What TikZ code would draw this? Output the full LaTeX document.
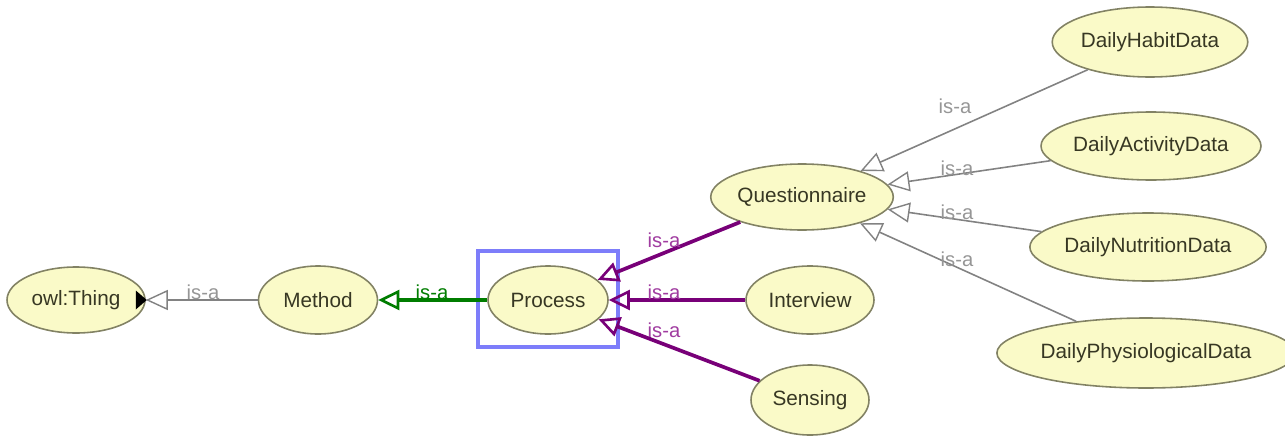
\documentclass[tikz,border=0pt]{standalone}
\usepackage{fontspec}
\setmainfont{Liberation Sans}
\usetikzlibrary{shapes.geometric,arrows.meta}

\definecolor{clsfill}{RGB}{250,250,200}
\definecolor{clsdraw}{RGB}{130,130,100}
\definecolor{clstext}{RGB}{55,55,35}
\definecolor{isagray}{RGB}{130,130,130}
\definecolor{isagraytxt}{RGB}{150,150,150}
\definecolor{isapurple}{RGB}{120,0,120}
\definecolor{isapurpletxt}{RGB}{160,60,160}
\definecolor{isagreen}{RGB}{0,125,0}
\definecolor{selblue}{RGB}{125,125,250}

\tikzset{
  cls/.style={ellipse, draw=clsdraw, fill=clsfill, line width=0.9pt,
    text=clstext, font=\fontsize{11.8}{13}\selectfont, inner sep=0pt},
  isaedge/.style={-{Triangle[open, length=0.44cm, width=0.4cm, line width=0.8pt]},
    draw=isagray, line width=0.9pt},
  subedge/.style={-{Triangle[open, length=0.42cm, width=0.4cm, line width=1.5pt]},
    draw=isapurple, line width=2.1pt},
  superedge/.style={-{Triangle[open, length=0.42cm, width=0.4cm, line width=1.5pt]},
    draw=isagreen, line width=1.8pt},
  isalbl/.style={font=\fontsize{11.5}{12}\selectfont, inner sep=0pt},
}

\begin{document}
\begin{tikzpicture}[x=0.02cm, y=-0.02cm]
  \useasboundingbox (0,0) rectangle (1285,436);

  % classes
  \node[cls, minimum width=138*0.02cm, minimum height=66*0.02cm] (thing) at (76,300) {owl:Thing};
  \node[cls, minimum width=119*0.02cm, minimum height=68*0.02cm] (method) at (318,300) {Method};
  \node[cls, minimum width=120*0.02cm, minimum height=68*0.02cm] (process) at (548,300) {Process};
  \node[cls, minimum width=166*0.02cm, minimum height=66*0.02cm] (quest) at (802,197) {Questionnaire};
  \node[cls, minimum width=128*0.02cm, minimum height=68*0.02cm] (interview) at (810,300) {Interview};
  \node[cls, minimum width=118*0.02cm, minimum height=70*0.02cm] (sensing) at (810,400) {Sensing};
  \node[cls, minimum width=188*0.02cm, minimum height=70*0.02cm] (habit) at (1150,42) {DailyHabitData};
  \node[cls, minimum width=212*0.02cm, minimum height=68*0.02cm] (activity) at (1151,146) {DailyActivityData};
  \node[cls, minimum width=220*0.02cm, minimum height=68*0.02cm] (nutrition) at (1148,247) {DailyNutritionData};
  \node[cls, minimum width=274*0.02cm, minimum height=70*0.02cm] (physio) at (1146,353) {DailyPhysiologicalData};

  % selection frame around the focused class
  \draw[selblue, line width=2.8pt] (478,251) rectangle (618,347);

  % expansion marker on owl:Thing
  \fill[black] ([xshift=-0.2cm]thing.east) ++(0,-0.19cm) -- ++(0.22cm,0.19cm) -- ++(-0.22cm,0.19cm) -- cycle;

  % is-a connectors
  \draw[isaedge] (method) -- (thing);
  \draw[superedge] (process) -- (method);
  \draw[subedge] (quest) -- (process);
  \draw[subedge] (interview) -- (process);
  \draw[subedge] (sensing) -- (process);
  \draw[isaedge] (habit) -- (quest);
  \draw[isaedge] (activity) -- (quest);
  \draw[isaedge] (nutrition) -- (quest);
  \draw[isaedge] (physio) -- (quest);

  % connector labels
  \node[isalbl, text=isagraytxt] (l0) at (203,292) {is-a};
  \node[isalbl, text=isagreen] (l1) at (432,292) {is-a};
  \node[isalbl, text=isapurpletxt] (l2) at (664,240) {is-a};
  \node[isalbl, text=isapurpletxt] (l3) at (664,292) {is-a};
  \node[isalbl, text=isapurpletxt] (l4) at (664,330) {is-a};
  \node[isalbl, text=isagraytxt] (l5) at (955,106) {is-a};
  \node[isalbl, text=isagraytxt] (l6) at (957,168) {is-a};
  \node[isalbl, text=isagraytxt] (l7) at (957,212) {is-a};
  \node[isalbl, text=isagraytxt] (l8) at (957,259) {is-a};
\end{tikzpicture}
\end{document}
